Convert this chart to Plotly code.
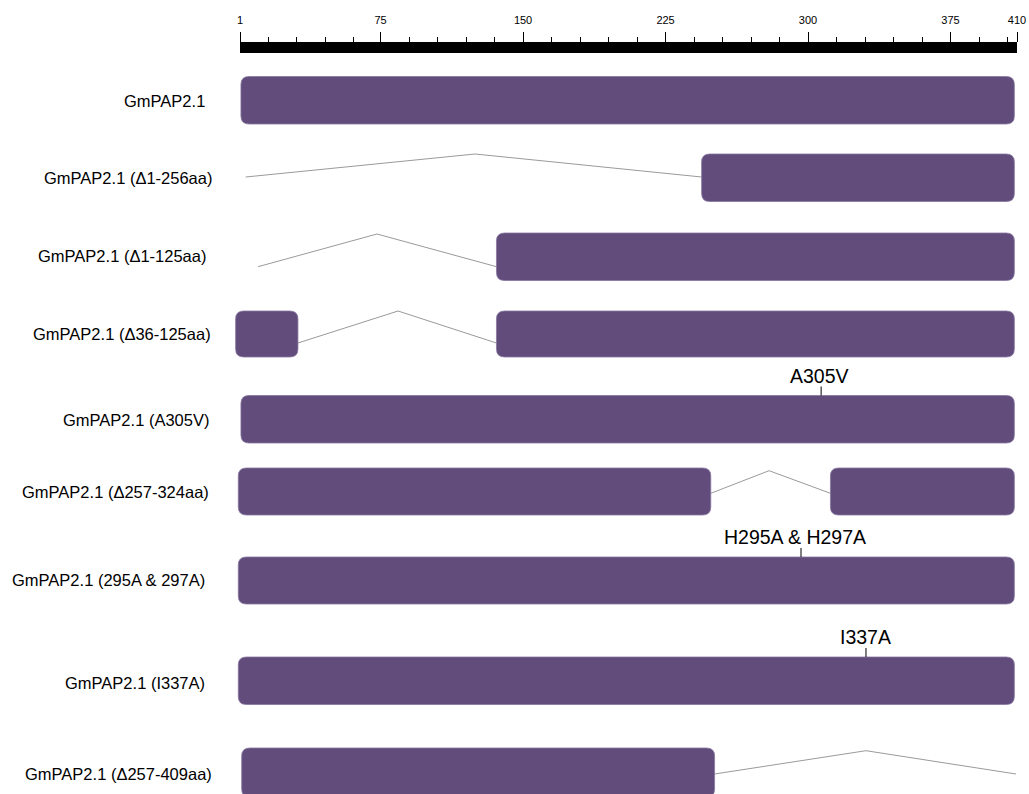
import plotly.graph_objects as go

# ---------------- data ----------------
constructs = [
    "GmPAP2.1",
    "GmPAP2.1 (Δ1-256aa)",
    "GmPAP2.1 (Δ1-125aa)",
    "GmPAP2.1 (Δ36-125aa)",
    "GmPAP2.1 (A305V)",
    "GmPAP2.1 (Δ257-324aa)",
    "GmPAP2.1 (295A & 297A)",
    "GmPAP2.1 (I337A)",
    "GmPAP2.1 (Δ257-409aa)",
]
# retained domains (aa start, aa end) per construct
segments = [
    [(1.5, 408.6)],
    [(244.0, 408.6)],
    [(136.0, 408.6)],
    [(-1.3, 31.5), (136.0, 408.6)],
    [(1.5, 408.6)],
    [(0.1, 248.8), (311.8, 408.6)],
    [(0.1, 408.6)],
    [(0.1, 408.6)],
    [(1.9, 250.8)],
]
# deleted region connectors (start aa, peak aa, end aa)
connectors = [None, (4.0, 124.7, 244.0), (10.5, 73.1, 136.0), (31.5, 84.2, 136.0),
              None, (248.8, 279.5, 311.8), None, None, (250.8, 330.5, 409.5)]
# point mutations (label, aa position)
mutations = [None, None, None, None, ("A305V", 306.9), None,
             ("H295A & H297A", 296.3), ("I337A", 330.5), None]

ruler_major = [1, 75, 150, 225, 300, 375, 410]
ruler_minor = [16, 31, 46, 61, 90, 105, 120, 135, 165, 180, 195, 210,
               240, 255, 270, 285, 315, 330, 345, 360, 390, 405]

# ---------------- layout (pixel positions) ----------------
W, H = 1029, 794
RULER_L, RULER_R = 240, 1017
PX_PER_AA = (RULER_R - RULER_L) / (410 - 1)
x_lo = 1 - RULER_L / PX_PER_AA
x_hi = 410 + (W - RULER_R) / PX_PER_AA

row_top = [76.5, 154, 233, 311, 395.5, 468, 557, 657, 748]
row_bot = [124, 201.5, 280.5, 357, 443, 515, 604, 704.5, 797]
conn_end_y = [None, 177, 266.7, 343, None, 493.3, None, None, 774]
conn_peak_y = [None, 154, 234, 311, None, 470.7, None, None, 750.7]
label_right = [207, 214, 208, 213, 211, 211, 207, 207, 214]
label_y = [101, 178, 256, 334, 420, 492, 580, 683, 774]
mut_text_dx = [0, 0, 0, 0, -2, 0, -6, 0, 0]

BAR = "#614c7b"
BAR_EDGE = "#8676a0"
LINE = "#9a9a9a"
FONT = "Liberation Sans, Arial, sans-serif"

R_PX = 8
rx = R_PX / PX_PER_AA
ry = R_PX


def rounded(x0, x1, y0, y1):
    return (f"M {x0+rx},{y0} L {x1-rx},{y0} Q {x1},{y0} {x1},{y0+ry} "
            f"L {x1},{y1-ry} Q {x1},{y1} {x1-rx},{y1} L {x0+rx},{y1} "
            f"Q {x0},{y1} {x0},{y1-ry} L {x0},{y0+ry} Q {x0},{y0} {x0+rx},{y0} Z")


fig = go.Figure()
fig.add_trace(go.Scatter(x=[None], y=[None], xaxis="x", yaxis="y",
                         showlegend=False, hoverinfo="skip"))
fig.add_trace(go.Scatter(x=[1, 410], y=[0, 0], xaxis="x2", yaxis="y2",
                         mode="markers", marker=dict(opacity=0),
                         showlegend=False, hoverinfo="skip"))

shapes = []
annotations = []
for i, name in enumerate(constructs):
    y0, y1 = row_top[i], row_bot[i]
    c = connectors[i]
    if c:
        s, p, e = c
        shapes.append(dict(type="path", xref="x", yref="y",
                           path=f"M {s},{conn_end_y[i]} L {p},{conn_peak_y[i]} L {e},{conn_end_y[i]}",
                           line=dict(color=LINE, width=1), layer="below"))
    for (a, b) in segments[i]:
        shapes.append(dict(type="path", xref="x", yref="y", path=rounded(a, b, y0, y1),
                           fillcolor=BAR, line=dict(color=BAR_EDGE, width=0.8),
                           layer="above"))
    m = mutations[i]
    if m:
        lab, pos = m
        shapes.append(dict(type="line", xref="x", yref="y", x0=pos, x1=pos,
                           y0=y0, y1=y0 - 9, line=dict(color="black", width=1)))
        annotations.append(dict(x=pos, y=y0 - 9, xref="x", yref="y", text=lab,
                                showarrow=False, xanchor="center", yanchor="bottom",
                                font=dict(family=FONT, size=19.5, color="black"),
                                xshift=mut_text_dx[i], yshift=-2))
    annotations.append(dict(x=label_right[i] / W, y=label_y[i], xref="paper", yref="y",
                            text=name, showarrow=False, xanchor="right", yanchor="middle",
                            font=dict(family=FONT, size=16.5, color="black")))

fig.update_layout(
    width=W, height=H,
    margin=dict(l=0, r=0, t=0, b=0, autoexpand=False),
    paper_bgcolor="white", plot_bgcolor="rgba(0,0,0,0)",
    showlegend=False,
    font=dict(family=FONT, color="black"),
    xaxis=dict(range=[x_lo, x_hi], visible=False, domain=[0, 1], automargin=False),
    yaxis=dict(range=[H, 0], visible=False, domain=[0, 1], automargin=False),
    xaxis2=dict(domain=[RULER_L / W, RULER_R / W], range=[1, 410], anchor="y2",
                side="top", showline=True, linewidth=11, linecolor="black",
                showgrid=False, zeroline=False, automargin=False,
                tickmode="array", tickvals=ruler_major,
                ticktext=[str(v) for v in ruler_major],
                ticks="outside", ticklen=10, tickwidth=1, tickcolor="black",
                ticklabelstandoff=4,
                tickfont=dict(family=FONT, size=11, color="black"),
                minor=dict(tickmode="array", tickvals=ruler_minor, ticks="outside",
                           ticklen=5, tickwidth=1, tickcolor="black", showgrid=False),
                fixedrange=True),
    yaxis2=dict(domain=[0.9, 1 - 53 / H], anchor="x2", visible=False, range=[-1, 1],
                automargin=False),
    shapes=shapes,
    annotations=annotations,
)

fig.write_html("out.html")
